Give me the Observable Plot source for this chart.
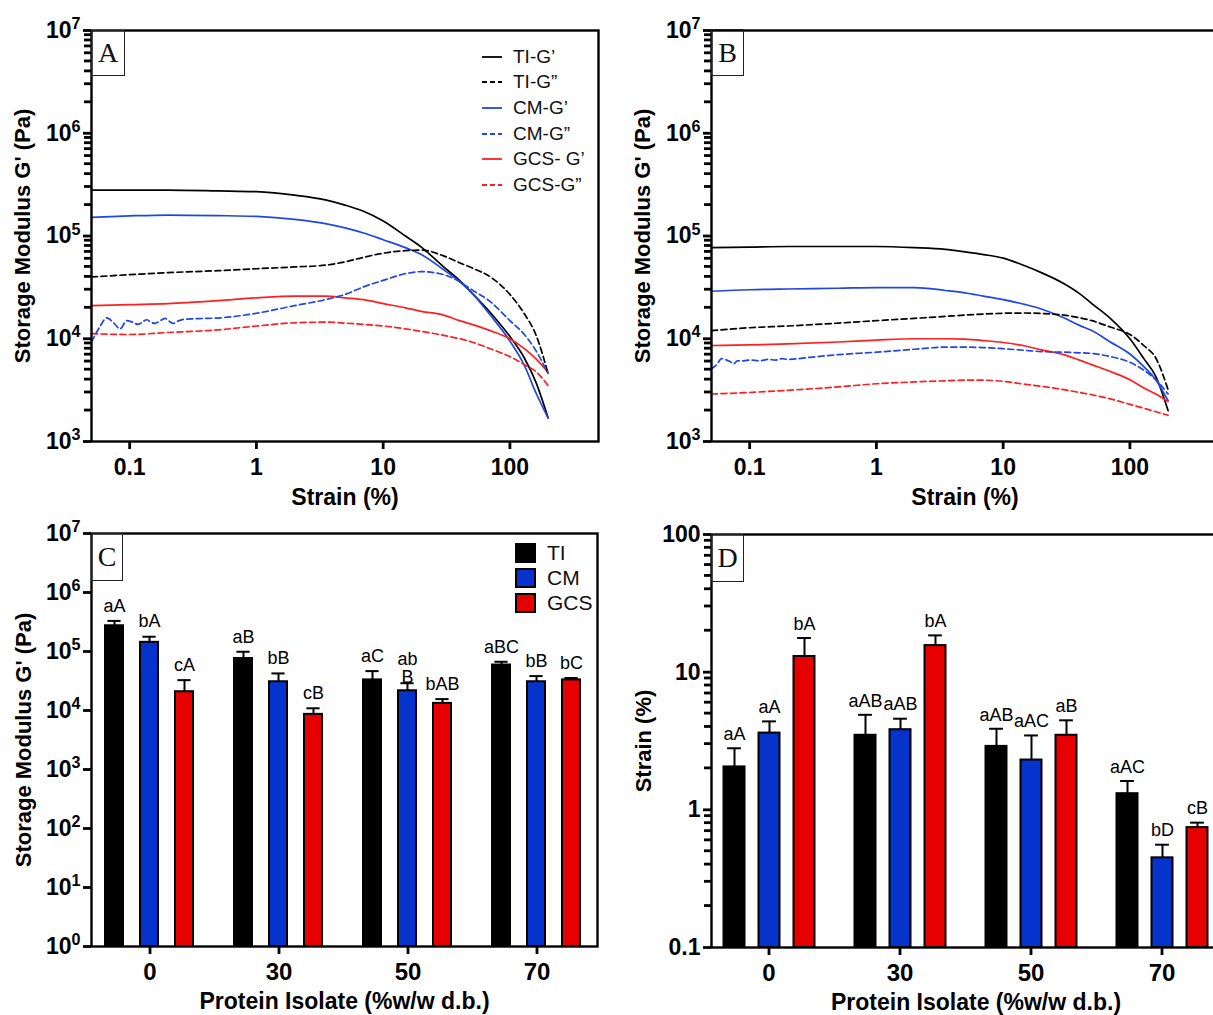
<!DOCTYPE html>
<html><head><meta charset="utf-8">
<script src="https://cdn.jsdelivr.net/npm/d3@7"></script>
<script src="https://cdn.jsdelivr.net/npm/@observablehq/plot@0.6"></script>
<style>
body{margin:0;background:#fff;}
#fig{position:relative;width:1213px;height:1015px;overflow:hidden;background:#fff;font-family:"Liberation Sans",Arial,Helvetica,sans-serif;}
.layer{position:absolute;}
.layer svg{display:block;max-width:none;overflow:visible;}
.tag{position:absolute;border:1.5px solid #222;box-sizing:border-box;font-family:"Liberation Serif","Times New Roman",serif;font-size:28px;display:flex;align-items:center;justify-content:center;color:#111;}
.lg{position:absolute;font-size:19px;color:#111;}
.lg .row{display:flex;align-items:center;height:25.6px;}
.lg2{position:absolute;font-size:21px;color:#111;}
.lg2 .row{display:flex;align-items:center;height:25px;}
.sq{width:21px;height:20px;border:2px solid #000;box-sizing:border-box;margin-right:11px;}
</style></head><body><div id="fig"></div>
<script>
// ---------- DATA ----------
const strainA = [0.05, 0.1, 0.2, 0.5, 1, 2, 3.5, 5, 7, 10, 15, 20, 30, 40, 50, 70, 100, 130, 160, 200];

// Panel A (strain sweep)
const A_TI_G1  = [2.8e5, 2.8e5, 2.8e5, 2.75e5, 2.7e5, 2.5e5, 2.25e5, 2.0e5, 1.74e5, 1.4e5, 1.0e5, 7.8e4, 5.0e4, 3.7e4, 2.8e4, 1.8e4, 1.05e4, 6.5e3, 3.8e3, 1.7e3];
const A_TI_G2  = [4.0e4, 4.2e4, 4.4e4, 4.6e4, 4.8e4, 5.0e4, 5.2e4, 5.6e4, 6.2e4, 6.8e4, 7.2e4, 7.3e4, 6.4e4, 5.5e4, 4.9e4, 4.0e4, 2.7e4, 1.75e4, 1.1e4, 4.6e3];
const A_CM_G1  = [1.52e5, 1.57e5, 1.6e5, 1.58e5, 1.55e5, 1.45e5, 1.32e5, 1.2e5, 1.07e5, 9.2e4, 7.7e4, 6.6e4, 4.7e4, 3.6e4, 2.8e4, 1.7e4, 9.5e3, 5.5e3, 3.0e3, 1.7e3];
const strainNoiseA = [0.05, 0.058, 0.066, 0.075, 0.084, 0.095, 0.105, 0.117, 0.126, 0.136, 0.147, 0.158, 0.172, 0.19, 0.205, 0.22, 0.245, 0.27, 0.35, 0.53, 1, 2, 3.5, 5, 7, 10, 15, 20, 30, 40, 50, 70, 100, 130, 160, 200];
const A_CM_G2  = [9.3e3, 1.3e4, 1.6e4, 1.42e4, 1.25e4, 1.5e4, 1.45e4, 1.38e4, 1.45e4, 1.53e4, 1.45e4, 1.41e4, 1.48e4, 1.58e4, 1.48e4, 1.41e4, 1.5e4, 1.55e4, 1.57e4, 1.6e4, 1.77e4, 2.1e4, 2.4e4, 2.7e4, 3.2e4, 3.7e4, 4.3e4, 4.5e4, 4.2e4, 3.6e4, 3.0e4, 2.3e4, 1.5e4, 1.1e4, 7.7e3, 4.6e3];
const A_GCS_G1 = [2.1e4, 2.15e4, 2.2e4, 2.35e4, 2.5e4, 2.6e4, 2.6e4, 2.5e4, 2.4e4, 2.2e4, 2.0e4, 1.85e4, 1.7e4, 1.5e4, 1.38e4, 1.2e4, 1.0e4, 8.0e3, 6.4e3, 4.7e3];
const A_GCS_G2 = [1.12e4, 1.1e4, 1.15e4, 1.22e4, 1.33e4, 1.43e4, 1.45e4, 1.42e4, 1.38e4, 1.33e4, 1.25e4, 1.18e4, 1.08e4, 1.0e4, 9.3e3, 8.0e3, 6.7e3, 5.6e3, 4.8e3, 3.5e3];

// Panel B
const B_TI_G1  = [7.7e4, 7.8e4, 7.9e4, 7.9e4, 7.9e4, 7.7e4, 7.4e4, 7.0e4, 6.6e4, 6.1e4, 5.1e4, 4.4e4, 3.45e4, 2.75e4, 2.2e4, 1.58e4, 1.0e4, 6.3e3, 4.3e3, 2.0e3];
const B_TI_G2  = [1.2e4, 1.28e4, 1.33e4, 1.42e4, 1.5e4, 1.58e4, 1.65e4, 1.7e4, 1.74e4, 1.77e4, 1.78e4, 1.76e4, 1.7e4, 1.6e4, 1.5e4, 1.3e4, 1.1e4, 8.5e3, 6.5e3, 3.2e3];
const B_CM_G1  = [2.9e4, 3.0e4, 3.05e4, 3.1e4, 3.15e4, 3.15e4, 2.95e4, 2.8e4, 2.6e4, 2.4e4, 2.15e4, 1.95e4, 1.6e4, 1.35e4, 1.2e4, 9.3e3, 7.1e3, 5.3e3, 4.0e3, 2.5e3];
const strainNoiseB = [0.05, 0.055, 0.06, 0.066, 0.07, 0.075, 0.08, 0.09, 0.1, 0.12, 0.14, 0.16, 0.18, 0.2, 0.3, 0.5, 1, 2, 3.5, 5, 7, 10, 15, 20, 30, 40, 50, 70, 100, 130, 160, 200];
const B_CM_G2  = [5.1e3, 5.6e3, 6.4e3, 6.2e3, 6.0e3, 5.7e3, 6.1e3, 6.1e3, 6.2e3, 6.1e3, 6.3e3, 6.2e3, 6.4e3, 6.3e3, 6.6e3, 7.0e3, 7.4e3, 7.9e3, 8.3e3, 8.3e3, 8.2e3, 8.0e3, 7.7e3, 7.5e3, 7.4e3, 7.3e3, 7.2e3, 6.7e3, 5.9e3, 4.9e3, 4.0e3, 2.9e3];
const B_GCS_G1 = [8.6e3, 8.7e3, 8.9e3, 9.3e3, 9.7e3, 1.0e4, 1.0e4, 9.9e3, 9.6e3, 9.2e3, 8.5e3, 7.8e3, 7.0e3, 6.2e3, 5.6e3, 4.8e3, 4.0e3, 3.3e3, 2.9e3, 2.45e3];
const B_GCS_G2 = [2.9e3, 3.0e3, 3.15e3, 3.4e3, 3.65e3, 3.8e3, 3.9e3, 3.95e3, 3.95e3, 3.85e3, 3.6e3, 3.45e3, 3.2e3, 3.0e3, 2.85e3, 2.6e3, 2.3e3, 2.1e3, 1.95e3, 1.8e3];

const lineSeries = ["TI-G’", "TI-G”", "CM-G’", "CM-G”", "GCS- G’", "GCS-G”"];
const lineKind = ["G1", "G2", "G1", "G2", "G1", "G2"];
const strainTicks = [0.1, 1, 10, 100];

// Panels C and D (bars)
const groups = ["0", "30", "50", "70"];
const barSeries = ["TI", "CM", "GCS"];

const C_TI = [2.73e5, 7.6e4, 3.3e4, 5.9e4];
const C_TI_err = [3.3e5, 9.9e4, 4.65e4, 6.7e4];
const C_TI_lab = ["aA", "aB", "aC", "aBC"];
const C_CM = [1.43e5, 3.07e4, 2.16e4, 3.07e4];
const C_CM_err = [1.78e5, 4.25e4, 2.9e4, 3.83e4];
const C_CM_lab = ["bA", "bB", "ab\nB", "bB"];
const C_GCS = [2.08e4, 8.6e3, 1.32e4, 3.3e4];
const C_GCS_err = [3.27e4, 1.09e4, 1.56e4, 3.55e4];
const C_GCS_lab = ["cA", "cB", "bAB", "bC"];

const D_TI = [2.05, 3.48, 2.89, 1.31];
const D_TI_err = [2.8, 4.9, 3.88, 1.62];
const D_TI_lab = ["aA", "aAB", "aAB", "aAC"];
const D_CM = [3.61, 3.82, 2.30, 0.448];
const D_CM_err = [4.39, 4.59, 3.47, 0.558];
const D_CM_lab = ["aA", "aAB", "aAC", "bD"];
const D_GCS = [13.0, 15.6, 3.48, 0.743];
const D_GCS_err = [17.7, 18.5, 4.47, 0.807];
const D_GCS_lab = ["bA", "bA", "aB", "cB"];

// ---------- STYLE ----------
const FONT = '"Liberation Sans", Arial, Helvetica, sans-serif';
const lineColors = ["#000000", "#000000", "#2146e6", "#2146e6", "#ff1f1f", "#ff1f1f"];
const barColors = ["#000000", "#0533cc", "#e60000"];
const TICK_W = 2.8;

// ---------- BUILD ROWS ----------
function lineRows(sets) {
  const rows = [];
  sets.forEach(([xs, ys], i) => xs.forEach((x, j) => rows.push({series: lineSeries[i], kind: lineKind[i], strain: x, modulus: ys[j]})));
  return rows;
}
const rowsA = lineRows([[strainA, A_TI_G1], [strainA, A_TI_G2], [strainA, A_CM_G1], [strainNoiseA, A_CM_G2], [strainA, A_GCS_G1], [strainA, A_GCS_G2]]);
const rowsB = lineRows([[strainA, B_TI_G1], [strainA, B_TI_G2], [strainA, B_CM_G1], [strainNoiseB, B_CM_G2], [strainA, B_GCS_G1], [strainA, B_GCS_G2]]);

function barRows(sets) {
  const rows = [];
  sets.forEach(([v, e, l], i) => groups.forEach((g, j) => rows.push({group: g, series: barSeries[i], value: v[j], err: e[j], label: l[j]})));
  return rows;
}
const rowsC = barRows([[C_TI, C_TI_err, C_TI_lab], [C_CM, C_CM_err, C_CM_lab], [C_GCS, C_GCS_err, C_GCS_lab]]);
const rowsD = barRows([[D_TI, D_TI_err, D_TI_lab], [D_CM, D_CM_err, D_CM_lab], [D_GCS, D_GCS_err, D_GCS_lab]]);

// ---------- HELPERS ----------
const fig = document.getElementById("fig");
function place(el, left, top) {
  const d = document.createElement("div");
  d.className = "layer"; d.style.left = left + "px"; d.style.top = top + "px";
  d.appendChild(el); fig.appendChild(d); return d;
}
function superscripts(svg) {
  svg.querySelectorAll("text").forEach(t => {
    const m = /^10\^(-?\d+)$/.exec(t.textContent);
    if (m) {
      t.textContent = "10";
      const ts = document.createElementNS("http://www.w3.org/2000/svg", "tspan");
      ts.setAttribute("dy", "-0.55em"); ts.setAttribute("font-size", "0.7em");
      ts.textContent = m[1]; t.appendChild(ts);
    }
  });
  return svg;
}
const powFmt = d => "10^" + Math.round(Math.log10(d));
const decades = ([lo, hi]) => d3.range(Math.round(Math.log10(lo)), Math.round(Math.log10(hi)) + 1);
const majorTicks = domain => decades(domain).map(e => Math.pow(10, e));
const minorTicks = domain => decades(domain).slice(0, -1).flatMap(e => d3.range(2, 10).map(k => k * Math.pow(10, e)));
// y-axis ticks (major + minor) through the plot's own y scale, pointing outward from the left frame edge
function addYTicks(svg, ticks, frameLeft, len) {
  const y = svg.scale("y");
  const g = d3.select(svg).append("g").attr("aria-label", "y-axis ticks").attr("stroke", "#000").attr("stroke-width", TICK_W).attr("stroke-linecap", "butt");
  ticks.forEach(v => {
    const py = y.apply(v);
    g.append("line").attr("x1", frameLeft - len).attr("x2", frameLeft).attr("y1", py).attr("y2", py);
  });
  return svg;
}
function tag(letter, left, top, w, h) {
  const d = document.createElement("div"); d.className = "tag"; d.textContent = letter;
  Object.assign(d.style, {left: left + "px", top: top + "px", width: w + "px", height: h + "px"});
  fig.appendChild(d);
}
const baseStyle = size => ({fontFamily: FONT, fontSize: size + "px", fontWeight: "bold", background: "transparent", color: "black", overflow: "visible"});

// ---------- LINE PANELS ----------
function linePanel(rows) {
  const ydom = [1e3, 1e7];
  const W = 600, ML = 91, MR = 2;
  const svg = Plot.plot({
    width: W, height: 510, marginLeft: ML, marginRight: MR, marginTop: 30, marginBottom: 69,
    style: baseStyle(23),
    x: {type: "log", domain: [0.05, 500], axis: null},
    y: {type: "log", domain: ydom, axis: null},
    color: {domain: lineSeries, range: lineColors},
    marks: [
      Plot.axisY(majorTicks(ydom), {tickSize: 8, tickPadding: 3, tickFormat: powFmt, label: null, strokeWidth: TICK_W}),
      Plot.axisX(strainTicks, {tickSize: 8, tickPadding: 9, tickFormat: d => String(d), label: null, strokeWidth: TICK_W}),
      Plot.line(rows.filter(d => d.kind === "G1"), {x: "strain", y: "modulus", z: "series", stroke: "series", strokeWidth: 1.7, curve: "monotone-x"}),
      Plot.line(rows.filter(d => d.kind === "G2"), {x: "strain", y: "modulus", z: "series", stroke: "series", strokeWidth: 1.7, strokeDasharray: "6,3.5", curve: "monotone-x"}),
      Plot.frame({stroke: "black", strokeWidth: 2.4}),
      Plot.text(["Storage Modulus G' (Pa)"], {frameAnchor: "left", dx: -69, rotate: -90, textAnchor: "middle", lineAnchor: "middle", text: d => d, fontSize: 22}),
      Plot.text(["Strain (%)"], {frameAnchor: "bottom", dy: 56, textAnchor: "middle", lineAnchor: "middle", text: d => d, fontSize: 23})
    ]
  });
  return addYTicks(superscripts(svg), minorTicks(ydom), ML, 7);
}
place(linePanel(rowsA), 0, 0);
place(linePanel(rowsB), 620, 0);
tag("A", 91, 30, 34, 46);
tag("B", 711, 29, 33, 47);

// legend A
(function () {
  const lg = document.createElement("div"); lg.className = "lg";
  lg.style.left = "481px"; lg.style.top = "44px";
  lineSeries.forEach((s, i) => {
    const row = document.createElement("div"); row.className = "row";
    row.innerHTML = `<svg width="22" height="10" style="margin-right:10px"><line x1="1" x2="21" y1="5" y2="5" stroke="${lineColors[i]}" stroke-width="1.8" ${lineKind[i] === "G2" ? 'stroke-dasharray="5,3"' : ""}/></svg><span>${s}</span>`;
    lg.appendChild(row);
  });
  fig.appendChild(lg);
})();

// ---------- BAR PANELS ----------
function barPanel(rows, o) {
  return Plot.plot({
    width: o.width, height: 505, marginLeft: o.ml, marginRight: o.mr, marginTop: o.mt, marginBottom: o.mb,
    style: baseStyle(24),
    fx: {domain: groups, paddingInner: 0, paddingOuter: 0, label: null},
    x: {domain: barSeries, paddingInner: o.pi, paddingOuter: o.po, axis: null},
    y: {type: "log", domain: o.ydom, axis: null},
    color: {domain: barSeries, range: barColors},
    marks: [
      Plot.barY(rows, {fx: "group", x: "series", y1: o.ydom[0], y2: "value", fill: "series", stroke: "black", strokeWidth: 2}),
      Plot.ruleX(rows, {fx: "group", x: "series", y1: "value", y2: "err", stroke: "black", strokeWidth: 2}),
      Plot.tickY(rows, {fx: "group", x: "series", y: "err", stroke: "black", strokeWidth: 2, insetLeft: o.cap, insetRight: o.cap}),
      Plot.text(rows, {fx: "group", x: "series", y: "err", text: "label", dy: o.ldy, fontSize: 18, fontWeight: "normal"}),
      Plot.axisFx({anchor: "bottom", tickSize: 8, tickPadding: 8, label: null, strokeWidth: TICK_W})
    ]
  });
}
function barFrame(o) {
  const svg = Plot.plot({
    width: o.fwidth, height: 505, marginLeft: 91, marginRight: o.fmr, marginTop: o.mt, marginBottom: o.mb,
    style: baseStyle(23),
    y: {type: "log", domain: o.ydom, axis: null},
    marks: [
      Plot.axisY(majorTicks(o.ydom), {tickSize: 8, tickPadding: 3, tickFormat: o.fmt, label: null, strokeWidth: TICK_W}),
      Plot.frame({stroke: "black", strokeWidth: 2.4}),
      Plot.text([o.ylabel], {frameAnchor: "left", dx: -68, rotate: -90, textAnchor: "middle", lineAnchor: "middle", text: d => d, fontSize: 22}),
      Plot.text(["Protein Isolate (%w/w d.b.)"], {frameAnchor: "bottom", dy: 55, textAnchor: "middle", lineAnchor: "middle", text: d => d, fontSize: 23})
    ]
  });
  superscripts(svg);
  if (o.minor) addYTicks(svg, minorTicks(o.ydom), 91, 7);
  return svg;
}
const optC = {width: 605, ml: 83, mr: 3, mt: 23, mb: 69, pi: 0.472, po: 0.562, cap: 2.4, ldy: -15, ydom: [1, 1e7],
  fwidth: 600, fmr: 3, minor: false, fmt: powFmt, ylabel: "Storage Modulus G' (Pa)"};
const optD = {width: 620, ml: 82.5, mr: 13.5, mt: 24, mb: 68, pi: 0.405, po: 0.532, cap: 3.6, ldy: -14, ydom: [0.1, 100],
  fwidth: 620, fmr: 0, minor: true, fmt: d => String(d), ylabel: "Strain (%)"};
place(barPanel(rowsC, optC), 0, 510);
place(barFrame(optC), 0, 510);
place(barPanel(rowsD, optD), 620, 510);
place(barFrame(optD), 620, 510);
tag("C", 91, 533, 32, 48);
tag("D", 711, 534, 33, 48);

// legend C
(function () {
  const lg = document.createElement("div"); lg.className = "lg2";
  lg.style.left = "515px"; lg.style.top = "540px";
  barSeries.forEach((s, i) => {
    const row = document.createElement("div"); row.className = "row";
    row.innerHTML = `<div class="sq" style="background:${barColors[i]}"></div><span>${s}</span>`;
    lg.appendChild(row);
  });
  fig.appendChild(lg);
})();
</script></body></html>
